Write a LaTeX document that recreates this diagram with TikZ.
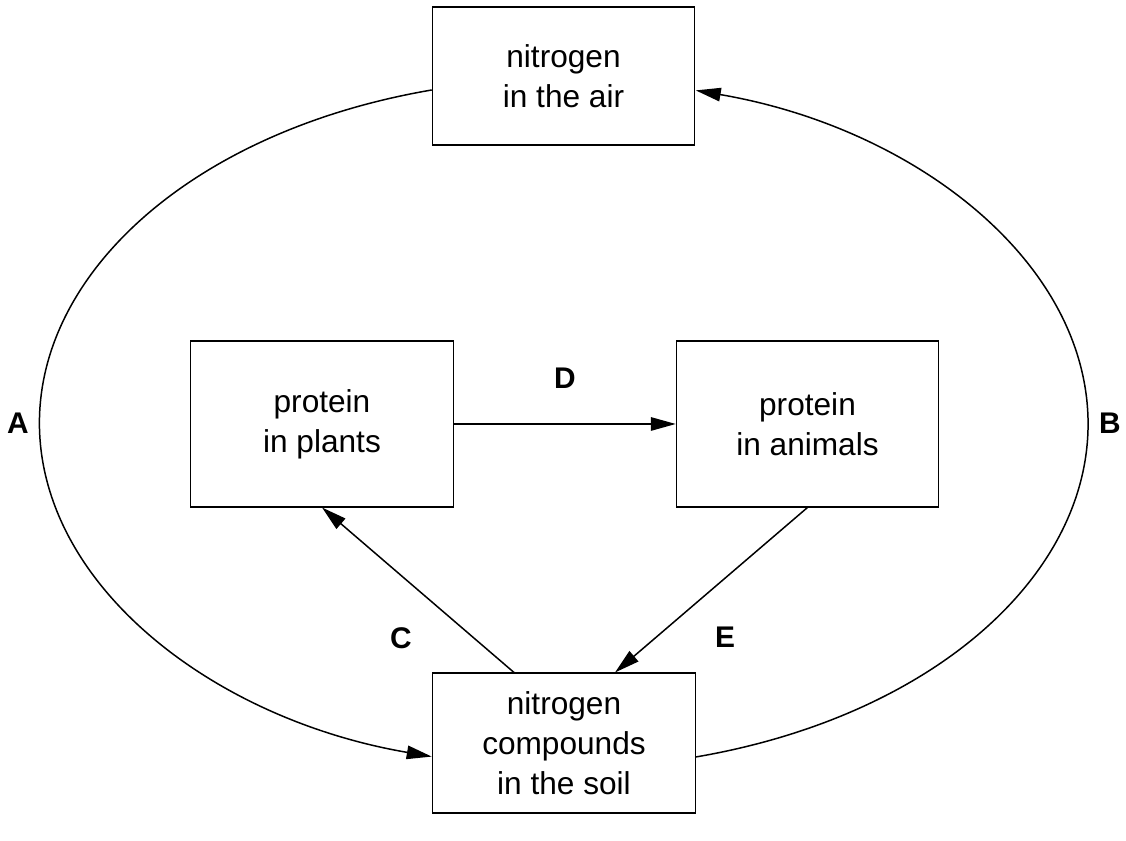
\documentclass[tikz,border=0pt]{standalone}
\usepackage{fontspec}
\setmainfont{Liberation Sans}
\usetikzlibrary{arrows.meta}

\begin{document}
\begin{tikzpicture}[x=0.02cm,y=0.02cm,
  pool/.style={draw,line width=0.6pt,minimum width=5.25cm,align=center,
    font=\fontsize{18}{22.8}\selectfont},
  flow/.style={line width=0.85pt,-{Triangle[length=5mm,width=2.7mm]}},
  tag/.style={font=\fontsize{17}{19}\selectfont\bfseries}]
\useasboundingbox (0,0) rectangle (1126,841);
% the four pools
\node[pool,minimum height=2.76cm] (air) at (563.5,765) {nitrogen\\in the air};
\node[pool,minimum height=3.32cm] (plants) at (322,417) {protein\\in plants};
\node[pool,minimum height=3.32cm] (animals) at (807.5,417) {protein\\in animals};
\node[pool,minimum height=2.8cm] (soil) at (564,98) {nitrogen\\compounds\\in the soil};
% the big loop
\draw[flow] ([yshift=-0.28cm]air.west) arc[start angle=104.6,end angle=255.4,x radius=10.49cm,y radius=6.89cm];
\draw[flow] ([yshift=-0.28cm]soil.east) arc[start angle=-75.4,end angle=75.4,x radius=10.49cm,y radius=6.89cm];
% inner arrows
\draw[flow] (plants.east) -- (animals.west);
\draw[flow] ([xshift=-1cm]soil.north) -- (plants.south);
\draw[flow] (animals.south) -- ([xshift=1.02cm]soil.north);
% letters
\node[tag] (la) at (18,418) {A};
\node[tag] (lb) at (1110,418) {B};
\node[tag] (lc) at (401,203) {C};
\node[tag] (ld) at (565,463) {D};
\node[tag] (le) at (725,204) {E};
\end{tikzpicture}
\end{document}
